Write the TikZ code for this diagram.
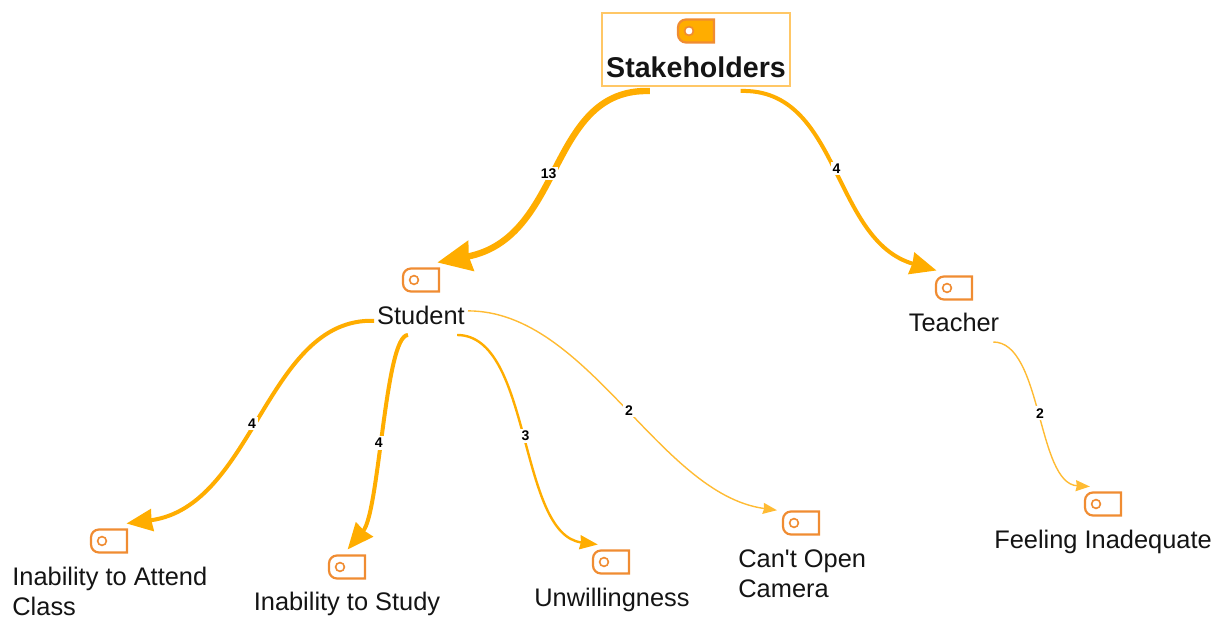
\documentclass[tikz,border=0pt]{standalone}
\usepackage{fontspec}
\setmainfont{Liberation Sans}
\newfontfamily\plainfont{Liberation Sans}
\usetikzlibrary{arrows.meta}
\definecolor{flow}{HTML}{FFAD00}
\definecolor{flowpale}{HTML}{FFBB33}
\definecolor{tagline}{HTML}{F08C32}
\definecolor{boxline}{HTML}{FFC766}
\definecolor{inkblack}{HTML}{141414}
\tikzset{
	tagbox/.style={inner sep=0pt, outer sep=3pt, minimum width=18pt, minimum height=11.5pt},
	itemtext/.style={text=inkblack, inner sep=0pt, font=\fontsize{12.7}{15}\selectfont, align=left},
	hubtext/.style={itemtext, outer sep=0pt, minimum width=47pt, minimum height=20pt, align=center},
	rootbox/.style={draw=boxline, line width=0.7pt, inner sep=0pt, outer sep=2.5pt, minimum width=94pt, minimum height=36.5pt},
	count/.style={fill=white, inner sep=1pt, text=black, font=\bfseries\fontsize{7}{8}\selectfont},
	linkxl/.style={draw=flow, line width=3.2pt, -{Stealth[length=17pt,width=15pt,inset=1pt]}},
	linkl/.style={draw=flow, line width=2pt, -{Stealth[length=13pt,width=11pt,inset=0.5pt]}},
	linkm/.style={draw=flow, line width=1.2pt, -{Stealth[length=9pt,width=7pt,inset=0.5pt]}},
	links/.style={draw=flowpale, line width=0.7pt, -{Stealth[length=7pt,width=5.5pt,inset=0.5pt]}}
}
\begin{document}
\begin{tikzpicture}[x=0.5pt, y=-0.5pt]
	\useasboundingbox (0,0) rectangle (1220,619);

	% Draw root box and its label.
	\node[rootbox] (stakeholders) at (696,49.5) {};
	\node[itemtext, font=\bfseries\fontsize{14.3}{16}\selectfont] (stakeholders text) at (696,67) {Stakeholders};

	% Draw tags.
	\foreach \name/\x/\y/\look in {stakeholders tag/696/31/flow, student tag/421/280/white, teacher tag/954/288/white,
		attend tag/109/541/white, study tag/347/567/white, unwilling tag/611/562/white,
		camera tag/801/523/white, inadequate tag/1103/504/white} {
		\begin{scope}[shift={(\x,\y)}]
			\node[tagbox] (\name) at (0,0) {};
			\draw[tagline, fill=\look, line width=1.1pt] (18,-11.5) [rounded corners=4pt] -- (-18,-11.5) -- (-18,11.5) [sharp corners] -- (18,11.5) -- cycle;
			\draw[tagline, fill=white, line width=0.8pt] (-7,0) circle (2.2pt);
		\end{scope}
	}

	% Draw item labels.
	\node[hubtext] (student) at (421,315) {Student};
	\node[hubtext] (teacher) at (954,322) {Teacher};
	\node[itemtext, anchor=west] (attend) at (12,591) {Inability to Attend\\Class};
	\node[itemtext] (study) at (347,603.5) {Inability to Study};
	\node[itemtext] (unwilling) at (612,600) {Unwillingness};
	\node[itemtext, anchor=west] (camera) at (738,573.5) {Can{\plainfont'}t Open\\Camera};
	\node[itemtext] (inadequate) at (1103,542) {Feeling Inadequate};

	% Draw links.
	\draw[linkxl] (stakeholders.222) .. controls +(-103,-3) and +(128,-25) .. (student tag.47) node[count, pos=0.53] (count student) {13};
	\draw[linkl] (stakeholders.317) .. controls +(100,-3) and +(-105,-30) .. (teacher tag.135) node[count, pos=0.5] (count teacher) {4};
	\draw[linkl] (student.187) .. controls +(-108,-3) and +(128,-17) .. (attend tag.45) node[count, pos=0.53] (count attend) {4};
	\draw[linkl] (student.237) .. controls +(-23,0) and +(32,-38) .. (study tag.88) node[count, pos=0.55] (count study) {4};
	\draw[linkm] (student.331) .. controls +(75,0) and +(-80,-10) .. (unwilling tag.127) node[count, pos=0.5] (count unwilling) {3};
	\draw[links] (student.5) .. controls +(120,0) and +(-118,-16) .. (camera tag.152) node[count, pos=0.52] (count camera) {2};
	\draw[links] (teacher.333) .. controls +(49,0) and +(-53,-3) .. (inadequate tag.127) node[count, pos=0.5] (count inadequate) {2};

\end{tikzpicture}
\end{document}
